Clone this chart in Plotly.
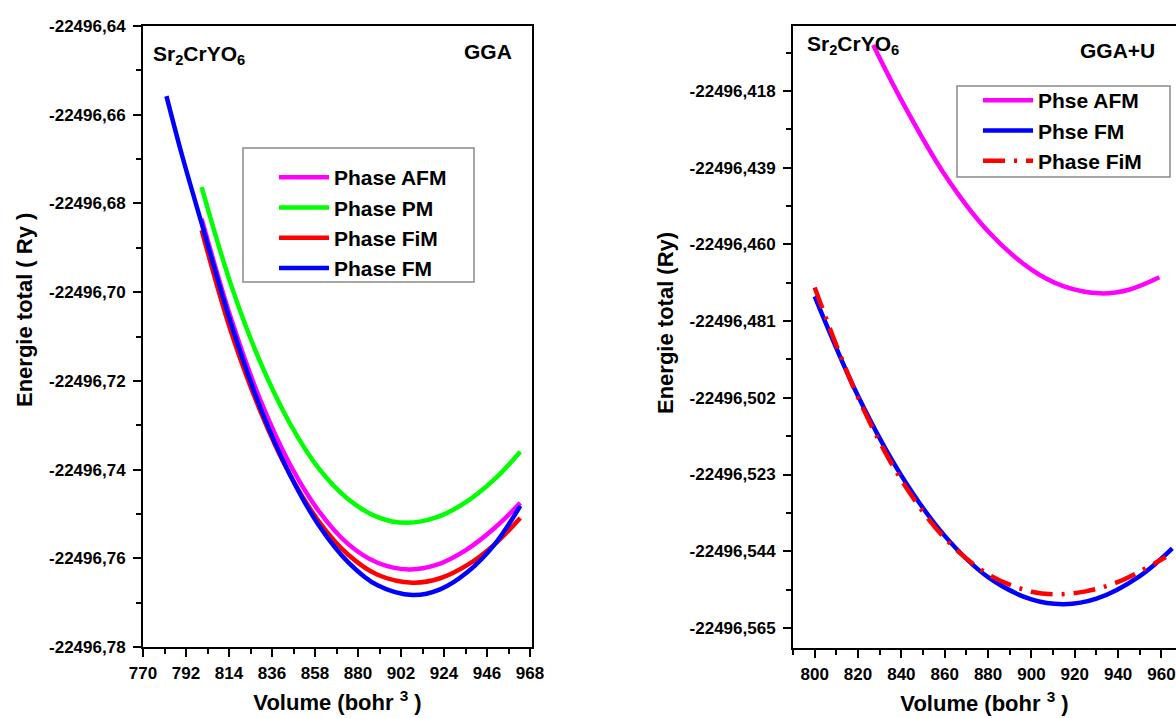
import plotly.graph_objects as go

# ---------------- GGA: total energy vs volume ----------------
v_afm_gga = [800, 815, 830, 845, 860, 875, 890, 906, 920, 935, 950, 963]
e_afm_gga = [-22496.6835, -22496.7059, -22496.7243, -22496.7387, -22496.7494, -22496.7568,
             -22496.7610, -22496.7625, -22496.7615, -22496.7582, -22496.7531, -22496.7475]

v_pm_gga = [800, 815, 830, 845, 860, 875, 890, 905, 920, 935, 950, 963]
e_pm_gga = [-22496.6763, -22496.6983, -22496.7158, -22496.7295, -22496.7398, -22496.7467,
            -22496.7507, -22496.7520, -22496.7508, -22496.7474, -22496.7421, -22496.7360]

v_fim_gga = [800, 815, 830, 845, 860, 875, 890, 908, 922, 936, 950, 963]
e_fim_gga = [-22496.6860, -22496.7089, -22496.7268, -22496.7410, -22496.7517, -22496.7592,
             -22496.7637, -22496.7655, -22496.7645, -22496.7615, -22496.7568, -22496.7509]

v_fm_gga = [782, 790, 800, 815, 830, 845, 860, 875, 890, 908, 922, 936, 950, 963]
e_fm_gga = [-22496.6558, -22496.6692, -22496.6845, -22496.7070, -22496.7260, -22496.7410,
            -22496.7526, -22496.7609, -22496.7661, -22496.7683, -22496.7670, -22496.7631,
            -22496.7568, -22496.7482]

# ---------------- GGA+U: total energy vs volume ----------------
v_afm_u = [827, 840, 860, 880, 900, 915, 932, 945, 959]
e_afm_u = [-22496.4054, -22496.4205, -22496.4409, -22496.4564, -22496.4669, -22496.4715,
           -22496.4734, -22496.4724, -22496.4690]

v_fm_u = [800, 820, 840, 860, 880, 900, 915, 930, 950, 965]
e_fm_u = [-22496.4742, -22496.5015, -22496.5233, -22496.5398, -22496.5511, -22496.5572,
          -22496.5585, -22496.5570, -22496.5508, -22496.5432]

v_fim_u = [800, 820, 840, 860, 880, 900, 912, 925, 940, 962]
e_fim_u = [-22496.4718, -22496.5019, -22496.5245, -22496.5404, -22496.5503, -22496.5551,
           -22496.5558, -22496.5550, -22496.5524, -22496.5456]

# ---------------- tick labels (comma decimal) ----------------
yticks_gga = [-22496.64, -22496.66, -22496.68, -22496.70, -22496.72, -22496.74, -22496.76, -22496.78]
ylabels_gga = ["-22496,64", "-22496,66", "-22496,68", "-22496,70",
               "-22496,72", "-22496,74", "-22496,76", "-22496,78"]
yticks_u = [-22496.418, -22496.439, -22496.460, -22496.481, -22496.502, -22496.523, -22496.544, -22496.565]
ylabels_u = ["-22496,418", "-22496,439", "-22496,460", "-22496,481",
             "-22496,502", "-22496,523", "-22496,544", "-22496,565"]

W, H = 1176, 718
FONT = "Liberation Sans"
MAGENTA, GREEN, RED, BLUE = "#FF00FF", "#00FF00", "#FF0000", "#0000FF"
LW = 4.5


def px_x(p):
    return p / W


def px_y(p):
    return 1 - p / H


fig = go.Figure()

# GGA panel
for name, v, e, c in [("Phase AFM", v_afm_gga, e_afm_gga, MAGENTA),
                      ("Phase PM", v_pm_gga, e_pm_gga, GREEN),
                      ("Phase FiM", v_fim_gga, e_fim_gga, RED),
                      ("Phase FM", v_fm_gga, e_fm_gga, BLUE)]:
    fig.add_trace(go.Scatter(x=v, y=e, name=name, mode="lines",
                             line=dict(color=c, width=LW, shape="spline"),
                             xaxis="x", yaxis="y", legend="legend"))

# GGA+U panel
fig.add_trace(go.Scatter(x=v_afm_u, y=e_afm_u, name="Phse AFM", mode="lines",
                         line=dict(color=MAGENTA, width=LW, shape="spline"),
                         xaxis="x2", yaxis="y2", legend="legend2"))
fig.add_trace(go.Scatter(x=v_fm_u, y=e_fm_u, name="Phse FM", mode="lines",
                         line=dict(color=BLUE, width=LW, shape="spline"),
                         xaxis="x2", yaxis="y2", legend="legend2"))
fig.add_trace(go.Scatter(x=v_fim_u, y=e_fim_u, name="Phase FiM", mode="lines",
                         line=dict(color=RED, width=LW, shape="spline", dash="22px,9px,3px,9px"),
                         xaxis="x2", yaxis="y2", legend="legend2"))

tickfont = dict(family=FONT, size=17, color="black", weight="bold")
titlefont = dict(family=FONT, size=22, color="black", weight="bold")
axis_common = dict(showline=True, linewidth=2, linecolor="black", ticks="outside",
                   ticklen=8, tickwidth=2, tickcolor="black", showgrid=False,
                   zeroline=False, tickfont=tickfont, automargin=False)
minor_common = dict(tickmode="linear", ticklen=5, tickwidth=2, tickcolor="black",
                    ticks="outside", showgrid=False)

fig.update_layout(
    width=W, height=H,
    margin=dict(l=0, r=0, t=0, b=0, autoexpand=False),
    paper_bgcolor="white", plot_bgcolor="white",
    xaxis=dict(axis_common, domain=[px_x(143), px_x(532)], range=[770, 969],
               tick0=770, dtick=22, mirror=True, anchor="y", ticklabelstandoff=2,
               minor=dict(minor_common, tick0=770, dtick=11),
               title=dict(text="Volume (bohr <sup>3</sup> )", font=titlefont, standoff=12)),
    yaxis=dict(axis_common, domain=[px_y(647), px_y(26)], range=[-22496.78, -22496.64],
               tickmode="array", tickvals=yticks_gga, ticktext=ylabels_gga,
               mirror=True, anchor="x", ticklabelstandoff=4,
               minor=dict(minor_common, tick0=-22496.64, dtick=0.01)),
    xaxis2=dict(axis_common, domain=[px_x(793), 1.0], range=[790, 966.7],
                tick0=800, dtick=20, mirror=True, anchor="y2", ticklabelstandoff=2,
                minor=dict(minor_common, tick0=800, dtick=10),
                title=dict(text="Volume (bohr <sup>3</sup> )", font=titlefont, standoff=12)),
    yaxis2=dict(axis_common, domain=[px_y(648), px_y(26)], range=[-22496.5705, -22496.4002],
                tickmode="array", tickvals=yticks_u, ticktext=ylabels_u,
                mirror=False, anchor="x2", ticklabelstandoff=4,
                minor=dict(minor_common, tick0=-22496.418, dtick=0.0105)),
    legend=dict(x=px_x(274), y=px_y(157), xanchor="left", yanchor="top",
                bgcolor="rgba(0,0,0,0)", borderwidth=0,
                font=dict(family=FONT, size=21, color="black", weight="bold"),
                tracegroupgap=0, itemwidth=50),
    legend2=dict(x=px_x(978), y=px_y(80), xanchor="left", yanchor="top",
                 bgcolor="rgba(0,0,0,0)", borderwidth=0,
                 font=dict(family=FONT, size=21, color="black", weight="bold"),
                 tracegroupgap=0, itemwidth=50),
    showlegend=True,
)

# legend frames
for x0, y0, x1, y1 in [(243, 148, 474, 282), (957, 86, 1170, 177)]:
    fig.add_shape(type="rect", xref="paper", yref="paper",
                  x0=px_x(x0), x1=px_x(x1), y0=px_y(y1), y1=px_y(y0),
                  line=dict(color="#8a8a8a", width=1.5), fillcolor="white", layer="above")

annot_font = dict(family=FONT, size=21, color="black", weight="bold")
fig.add_annotation(text="Energie total ( Ry )", textangle=-90, x=px_x(25), y=px_y(310),
                   xref="paper", yref="paper", xanchor="center", yanchor="middle",
                   showarrow=False, font=titlefont)
fig.add_annotation(text="Energie total (Ry)", textangle=-90, x=px_x(665), y=px_y(323),
                   xref="paper", yref="paper", xanchor="center", yanchor="middle",
                   showarrow=False, font=titlefont)
fig.add_annotation(text="Sr<sub>2</sub>CrYO<sub>6</sub>", x=px_x(151), y=px_y(40),
                   xref="paper", yref="paper", xanchor="left", yanchor="top",
                   showarrow=False, font=annot_font)
fig.add_annotation(text="GGA", x=px_x(514), y=px_y(38),
                   xref="paper", yref="paper", xanchor="right", yanchor="top",
                   showarrow=False, font=annot_font)
fig.add_annotation(text="Sr<sub>2</sub>CrYO<sub>6</sub>", x=px_x(805), y=px_y(30),
                   xref="paper", yref="paper", xanchor="left", yanchor="top",
                   showarrow=False, font=annot_font)
fig.add_annotation(text="GGA+U", x=px_x(1157), y=px_y(37),
                   xref="paper", yref="paper", xanchor="right", yanchor="top",
                   showarrow=False, font=annot_font)

fig.write_html("out.html")
